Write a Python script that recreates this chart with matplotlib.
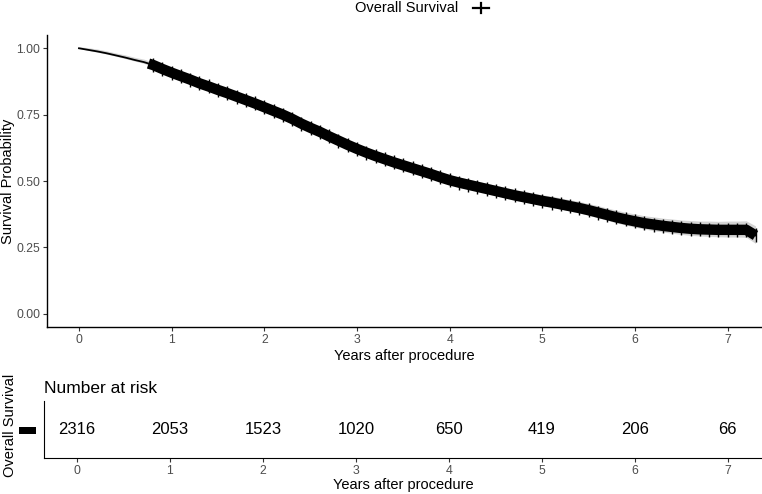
import matplotlib
matplotlib.use("Agg")
import matplotlib.pyplot as plt
import numpy as np

plt.rcParams['font.family'] = ['Liberation Sans', 'DejaVu Sans']

# ---- data ----
times = [0.0, 0.1, 0.2, 0.3, 0.4, 0.5, 0.6, 0.7, 0.8, 0.9,
         1.0, 1.1, 1.2, 1.3, 1.4, 1.5, 1.6, 1.7, 1.8, 1.9,
         2.0, 2.1, 2.2, 2.3, 2.4, 2.5, 2.6, 2.7, 2.8, 2.9,
         3.0, 3.1, 3.2, 3.3, 3.4, 3.5, 3.6, 3.7, 3.8, 3.9,
         4.0, 4.1, 4.2, 4.3, 4.4, 4.5, 4.6, 4.7, 4.8, 4.9,
         5.0, 5.1, 5.2, 5.3, 5.4, 5.5, 5.6, 5.7, 5.8, 5.9,
         6.0, 6.1, 6.2, 6.3, 6.4, 6.5, 6.6, 6.7, 6.8, 6.9,
         7.0, 7.1, 7.2, 7.3]
survival = [1.000, 0.994, 0.988, 0.981, 0.973, 0.965, 0.956, 0.948, 0.937, 0.922,
            0.908, 0.895, 0.882, 0.868, 0.856, 0.843, 0.831, 0.818, 0.805, 0.792,
            0.778, 0.764, 0.750, 0.734, 0.716, 0.700, 0.685, 0.668, 0.652, 0.636,
            0.621, 0.607, 0.594, 0.582, 0.570, 0.559, 0.548, 0.537, 0.526, 0.514,
            0.503, 0.494, 0.486, 0.478, 0.470, 0.462, 0.454, 0.446, 0.439, 0.432,
            0.425, 0.419, 0.412, 0.405, 0.398, 0.390, 0.381, 0.372, 0.363, 0.355,
            0.348, 0.341, 0.336, 0.331, 0.327, 0.323, 0.320, 0.318, 0.317, 0.316,
            0.316, 0.316, 0.316, 0.295]
ci_halfwidth = [0.000, 0.002, 0.003, 0.003, 0.003, 0.004, 0.004, 0.005, 0.005, 0.006,
                0.006, 0.007, 0.007, 0.007, 0.008, 0.008, 0.008, 0.009, 0.009, 0.009,
                0.010, 0.010, 0.010, 0.011, 0.011, 0.011, 0.011, 0.012, 0.012, 0.012,
                0.012, 0.012, 0.013, 0.013, 0.013, 0.013, 0.013, 0.014, 0.014, 0.014,
                0.014, 0.014, 0.015, 0.015, 0.015, 0.016, 0.016, 0.016, 0.017, 0.017,
                0.017, 0.018, 0.018, 0.018, 0.019, 0.019, 0.020, 0.020, 0.021, 0.021,
                0.022, 0.022, 0.023, 0.023, 0.024, 0.024, 0.025, 0.025, 0.026, 0.026,
                0.027, 0.027, 0.028, 0.030]
censor_start = 0.75
risk_times = [0, 1, 2, 3, 4, 5, 6, 7]
n_at_risk = [2316, 2053, 1523, 1020, 650, 419, 206, 66]
series_name = "Overall Survival"

W, H = 762, 494
fig = plt.figure(figsize=(W / 100, H / 100), dpi=100)

def frac(x0, y0, x1, y1):
    return [x0 / W, 1 - y1 / H, (x1 - x0) / W, (y1 - y0) / H]

tick_color = '#4d4d4d'

# ---- main survival panel ----
ax = fig.add_axes(frac(47, 35, 762, 327))
t = np.array(times)
s = np.array(survival)
hw = np.array(ci_halfwidth)
ax.fill_between(t, s - hw, s + hw + 0.006, color='#d4d4d4', lw=0, zorder=1)
ax.plot(t, s, color='black', lw=1.3, zorder=3)
mask = t >= censor_start
tm = np.concatenate([[censor_start], t[mask]])
sm = np.interp(tm, t, s)
ax.plot(tm, sm, color='black', lw=7.5, zorder=3, solid_capstyle='butt')
ax.plot(t[mask], s[mask], ls='none', marker='|', ms=10, mew=1.0, color='black', zorder=4)
ax.set_xlim(-0.345, 7.37)
ax.set_ylim(-0.05, 1.05)
ax.set_xticks(risk_times)
ax.set_yticks([0, 0.25, 0.5, 0.75, 1.0])
ax.set_yticklabels(['0.00', '0.25', '0.50', '0.75', '1.00'])
for side in ['top', 'right']:
    ax.spines[side].set_visible(False)
for side in ['left', 'bottom']:
    ax.spines[side].set_linewidth(1.0)
ax.tick_params(axis='both', colors='#333333', labelcolor=tick_color, labelsize=8.8,
               length=3, width=0.8, pad=2)
ax.set_xlabel('Years after procedure', fontsize=10.5, labelpad=2)
fig.text(8 / W, 1 - 181 / H, 'Survival Probability', rotation=90, ha='center',
         va='center', fontsize=10.5)

# legend at top
fig.text(458 / W, 1 - 8 / H, series_name, ha='right', va='center', fontsize=10.5)
lg = fig.add_axes(frac(471, 0, 491, 16))
lg.axis('off')
lg.set_xlim(0, 1); lg.set_ylim(0, 1)
lg.plot([0.1, 0.9], [0.5, 0.5], color='black', lw=1.6)
lg.plot([0.5, 0.5], [0.2, 0.8], color='black', lw=1.6)

# ---- risk table ----
rt = fig.add_axes(frac(44, 401, 762, 458))
rt.set_xlim(-0.355, 7.37)
rt.set_ylim(0, 1)
for x, n in zip(risk_times, n_at_risk):
    rt.text(x, 0.5, str(n), ha='center', va='center', fontsize=12)
rt.set_xticks(risk_times)
rt.set_yticks([0.5])
rt.set_yticklabels([''])
rt.tick_params(axis='y', length=0)
for side in ['top', 'right']:
    rt.spines[side].set_visible(False)
rt.tick_params(axis='x', colors='#333333', labelcolor=tick_color, labelsize=8.8,
               length=3, width=0.8, pad=2)
rt.set_xlabel('Years after procedure', fontsize=10.5, labelpad=1)
rt.set_title('Number at risk', loc='left', fontsize=12.5, pad=6, x=0.0)
fig.text(10 / W, 1 - 425 / H, series_name, rotation=90, ha='center', va='center',
         fontsize=10.5)
key = fig.add_axes(frac(19, 427, 35, 433))
key.axis('off')
key.set_xlim(0, 1); key.set_ylim(0, 1)
key.fill_between([0, 1], 0, 1, color='black')

fig.savefig('out.png', dpi=100)
